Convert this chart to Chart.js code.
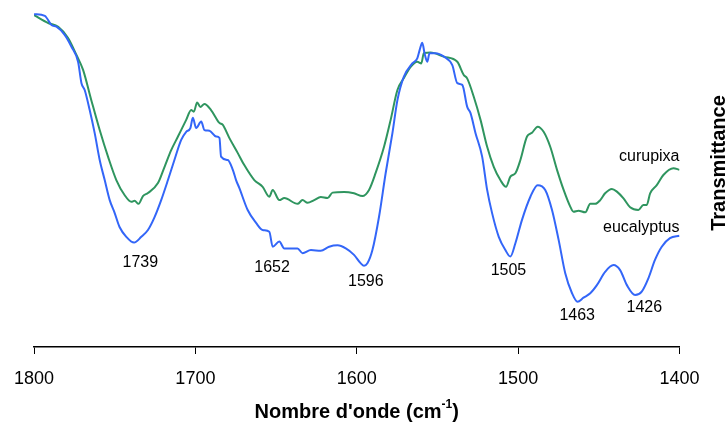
<!DOCTYPE html>
<html>
<head>
<meta charset="utf-8">
<script src="https://cdn.jsdelivr.net/npm/chart.js@4/dist/chart.umd.min.js"></script>
<style>
 body{margin:0;background:#fff;}
 #wrap{width:727px;height:428px;}
</style>
</head>
<body>
<div id="wrap"><canvas id="c" width="727" height="428"></canvas></div>
<script>
// eucalyptus spectrum (wavenumber cm-1, transmittance a.u.)
const waveEuc=[1800,1793.3,1789.2,1786.1,1781.0,1776.8,1772.7,1770.6,1768.6,1765.5,
 1762.4,1759.3,1756.2,1753.1,1750.0,1747.0,1742.8,1738.0,1733.5,1729.4,
 1725.3,1721.2,1717.0,1713.0,1708.8,1705.7,1703.1,1701.6,1699.5,1696.4,
 1694.4,1691.3,1687.2,1685.1,1684.1,1679.9,1676.8,1674.8,1672.8,1667.6,
 1662.4,1658.3,1654.2,1652.1,1648.0,1644.9,1636.7,1633.6,1628.4,1622.3,
 1617.1,1611.9,1606.8,1601.7,1597.5,1595.5,1593.4,1590.3,1586.2,1582.1,
 1577.9,1574.8,1570.8,1565.6,1562.5,1561.0,1559.4,1558.0,1556.3,1554.9,
 1551.2,1546.0,1540.8,1537.7,1534.6,1531.6,1529.5,1526.4,1522.3,1519.2,
 1516.1,1512.0,1507.9,1504.8,1501.7,1497.6,1492.4,1487.9,1483.2,1479.0,
 1474.9,1470.8,1466.6,1463.2,1459.5,1455.3,1451.2,1446.1,1440.9,1436.8,
 1432.6,1427.5,1423.4,1419.3,1415.2,1411.0,1405.9,1400];
const transEuc=[97.9,97.4,94.7,94.2,91.8,88.3,83.9,77.6,75.6,69.7,
 62.9,55.0,49.1,43.2,39.4,35.3,32.4,30.7,32.4,34.4,
 38.2,43.2,49.1,55.0,60.9,63.3,64.4,67.4,64.4,66.3,
 63.8,63.6,61.9,61.5,56.0,55.0,52.1,49.1,46.8,40.3,
 36.5,34.4,33.9,29.5,31.0,29.0,29.0,27.6,28.5,28.3,
 29.5,29.9,29.0,27.1,24.6,23.9,24.6,28.5,38.3,51.1,
 62.9,72.6,79.5,83.4,84.9,87.4,89.5,86.4,83.9,86.4,
 86.4,85.4,82.9,77.6,77.1,70.7,68.8,62.9,56.0,46.2,
 39.3,32.4,28.5,26.6,30.5,37.4,44.2,47.6,46.2,40.3,
 31.5,21.7,15.8,13.3,14.5,15.8,18.2,22.1,24.1,22.6,
 18.2,15.3,16.3,20.2,25.6,29.5,32.0,32.7];

// curupixa spectrum
const waveCur=[1800,1791.2,1785.0,1778.9,1773.7,1769.6,1764.5,1759.3,1754.1,1749.0,
 1743.9,1739.7,1737.7,1735.2,1732.5,1729.4,1723.2,1719.1,1715.0,1710.8,
 1705.7,1702.6,1701.0,1698.9,1696.9,1694.4,1690.3,1685.1,1683.0,1679.0,
 1673.8,1669.7,1663.5,1658.3,1654.2,1652.1,1648.0,1644.9,1636.7,1633.6,
 1630.5,1626.4,1622.3,1618.1,1615.0,1607.8,1601.7,1596.5,1592.4,1588.3,
 1583.1,1579.0,1574.8,1570.8,1566.6,1562.5,1560.0,1558.4,1554.3,1546.0,
 1537.7,1533.7,1531.6,1527.5,1523.3,1519.2,1515.1,1511.0,1507.5,1504.8,
 1501.7,1498.6,1494.5,1491.4,1487.9,1484.2,1480.1,1475.9,1471.8,1467.7,
 1465.7,1462.6,1458.4,1455.3,1452.2,1449.1,1446.1,1441.9,1438.8,1434.7,
 1430.6,1425.5,1422.4,1420.3,1418.2,1414.1,1410.0,1403.8,1400];
const transCur=[97.6,95.3,94.2,90.9,85.9,81.5,72.6,63.8,55.9,49.1,
 44.7,42.7,43.0,42.1,44.4,45.3,48.2,53.0,57.9,61.9,
 66.8,69.7,69.2,71.9,70.6,71.5,69.7,65.9,65.3,61.5,
 57.1,53.5,49.1,47.1,44.2,46.2,43.2,43.8,42.1,43.2,
 42.4,43.2,44.1,43.8,45.4,45.6,45.2,44.4,46.2,51.2,
 58.9,66.8,75.6,79.1,82.4,83.9,83.4,86.5,86.6,85.4,
 83.9,80.0,79.0,73.6,66.8,58.9,53.0,49.1,47.1,50.1,
 51.1,55.0,61.9,63.0,64.8,63.3,58.9,52.1,46.2,41.3,
 39.8,40.1,39.6,42.1,42.1,43.2,45.2,46.5,45.7,43.7,
 41.1,40.3,41.8,41.8,45.2,47.6,50.6,52.6,52.1];

// peak annotations
const peakLabels=['1739','1652','1596','1505','1463','1426'];
const peakLabelWn=[1734.1,1652.5,1594.4,1506.0,1463.4,1421.8];
const peakLabelT=[24.7,23.5,19.1,22.6,9.1,11.5];

const seriesNames=['eucalyptus','curupixa'];
const seriesLabelT=[35.0,55.9];
const xTicks=[1800,1700,1600,1500,1400];

const FONT='"Liberation Sans", Arial, sans-serif';
const pts=(xs,ys)=>xs.map((x,i)=>({x,y:ys[i]}));

const textPlugin={
 id:'texts',
 afterDraw(chart){
  const {ctx,chartArea:a,scales:{x,y}}=chart;
  ctx.save();
  ctx.fillStyle='#000';
  ctx.textBaseline='middle';
  ctx.textAlign='center';
  ctx.font='16px '+FONT;
  peakLabels.forEach((t,i)=>ctx.fillText(t,x.getPixelForValue(peakLabelWn[i]),y.getPixelForValue(peakLabelT[i])));
  ctx.textAlign='right';
  seriesNames.forEach((t,i)=>ctx.fillText(t,a.right,y.getPixelForValue(seriesLabelT[i])));

  // x title with superscript
  const main="Nombre d'onde (cm", sup='-1', tail=')';
  ctx.font='bold 20px '+FONT;
  const w1=ctx.measureText(main).width, w3=ctx.measureText(tail).width;
  ctx.font='bold 12px '+FONT;
  const w2=ctx.measureText(sup).width;
  let sx=(a.left+a.right)/2-(w1+w2+w3)/2, ty=412;
  ctx.textAlign='left';
  ctx.font='bold 20px '+FONT;
  ctx.fillText(main,sx,ty);
  ctx.font='bold 12px '+FONT;
  ctx.fillText(sup,sx+w1,ty-7);
  ctx.font='bold 20px '+FONT;
  ctx.fillText(tail,sx+w1+w2,ty);

  // y title on the right
  ctx.translate(719,163);
  ctx.rotate(-Math.PI/2);
  ctx.textAlign='center';
  ctx.fillText('Transmittance',0,0);
  ctx.restore();
 }
};

new Chart(document.getElementById('c'),{
 type:'line',
 data:{datasets:[
  {label:seriesNames[0],data:pts(waveEuc,transEuc),borderColor:'#3366f8',borderWidth:2,pointRadius:0,cubicInterpolationMode:'monotone'},
  {label:seriesNames[1],data:pts(waveCur,transCur),borderColor:'#2f955f',borderWidth:2,pointRadius:0,cubicInterpolationMode:'monotone'}
 ]},
 options:{
  responsive:false,
  animation:false,
  devicePixelRatio:1,
  layout:{padding:{left:32.5,right:47.5,top:7,bottom:0}},
  plugins:{legend:{display:false},tooltip:{enabled:false}},
  scales:{
   x:{type:'linear',reverse:true,min:1400,max:1800,
    afterBuildTicks:s=>{s.ticks=xTicks.map(v=>({value:v}));},
    afterFit:s=>{s.height=81;},
    border:{display:true,color:'#000',width:1.5},
    grid:{drawOnChartArea:false,drawTicks:true,tickLength:7,color:'#000'},
    ticks:{color:'#000',font:{size:18,family:FONT},padding:14,maxRotation:0,callback:v=>String(v)}
   },
   y:{display:false,min:0,max:100}
  }
 },
 plugins:[textPlugin]
});
</script>
</body>
</html>
